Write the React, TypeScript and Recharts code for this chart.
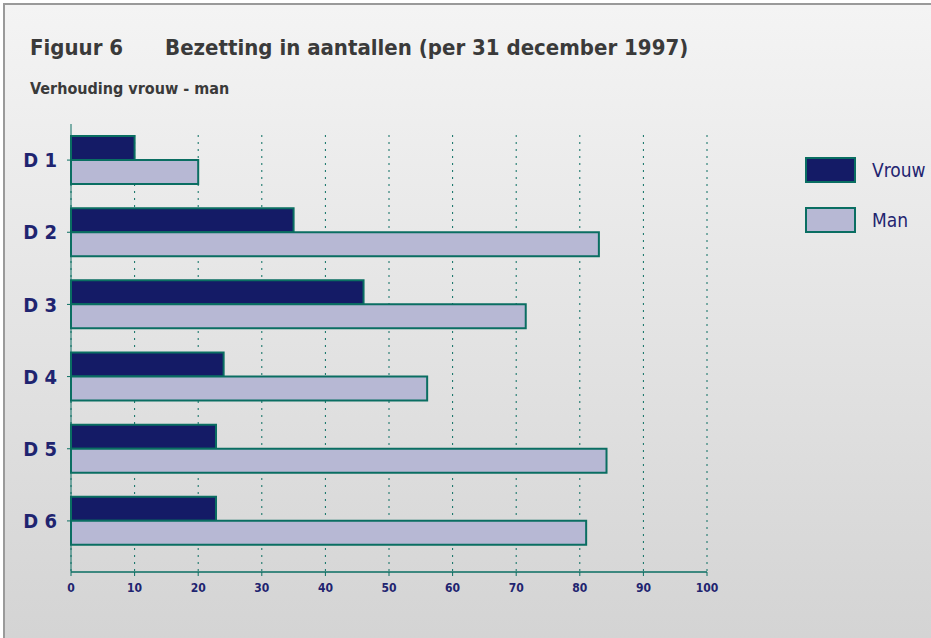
import React from "react";
import {
  BarChart,
  Bar,
  XAxis,
  YAxis,
  CartesianGrid,
} from "recharts";

const categories = ["D 1", "D 2", "D 3", "D 4", "D 5", "D 6"];
const vrouw = [10, 35, 46, 24, 22.8, 22.8];
const man = [20, 83, 71.5, 56, 84.2, 81];
const xTicks = [0, 10, 20, 30, 40, 50, 60, 70, 80, 90, 100];

const data = categories.map((name, i) => ({
  name,
  Vrouw: vrouw[i],
  Man: man[i],
}));

const NAVY = "#141b66";
const LAVENDER = "#b7b8d4";
const TEAL = "#0a6e62";
const LABEL = "#1f2470";
const FONT = "'Liberation Sans Narrow', 'DejaVu Sans Condensed', 'Arial Narrow', sans-serif";

const legendItems = [
  { label: "Vrouw", fill: NAVY },
  { label: "Man", fill: LAVENDER },
];

const LegendBox = () => (
  <div style={{ position: "absolute", left: 805, top: 157, fontFamily: FONT }}>
    {legendItems.map((item, i) => (
      <div
        key={item.label}
        style={{
          display: "flex",
          alignItems: "center",
          height: 26,
          marginBottom: i === 0 ? 24 : 0,
        }}
      >
        <div
          style={{
            width: 47,
            height: 22,
            background: item.fill,
            border: `2px solid ${TEAL}`,
          }}
        />
        <span style={{ marginLeft: 16, fontSize: 19, color: LABEL }}>
          {item.label}
        </span>
      </div>
    ))}
  </div>
);

export default function App() {
  return (
    <div
      style={{
        position: "absolute",
        left: 0,
        top: 0,
        width: 931,
        height: 638,
        overflow: "hidden",
        background: "#ffffff",
      }}
    >
      <div
        style={{
          position: "absolute",
          left: 3,
          top: 3,
          width: 940,
          height: 650,
          borderLeft: "2px solid #9a9a9a",
          borderTop: "2px solid #9a9a9a",
          background: "linear-gradient(#f4f4f4, #d3d3d3)",
        }}
      />
      <div
        style={{
          position: "absolute",
          left: 30,
          top: 35,
          fontFamily: FONT,
          fontWeight: "bold",
          fontSize: 22,
          color: "#3a3a3a",
          whiteSpace: "nowrap",
        }}
      >
        <span>Figuur 6</span>
        <span style={{ marginLeft: 42 }}>
          Bezetting in aantallen (per 31 december 1997)
        </span>
      </div>
      <div
        style={{
          position: "absolute",
          left: 30,
          top: 79,
          fontFamily: FONT,
          fontWeight: "bold",
          fontSize: 16,
          color: "#3a3a3a",
        }}
      >
        Verhouding vrouw - man
      </div>
      <div style={{ position: "absolute", left: 0, top: 0 }}>
        <BarChart
          width={931}
          height={638}
          data={data}
          layout="vertical"
          barSize={24}
          barGap={0}
          margin={{ top: 124, right: 224, left: 0, bottom: 36 }}
        >
          <CartesianGrid
            horizontal={false}
            stroke={TEAL}
            strokeDasharray="2 5"
            y={135}
            height={437}
          />
          <XAxis
            type="number"
            domain={[0, 100]}
            ticks={xTicks}
            interval={0}
            height={30}
            axisLine={{ stroke: TEAL, strokeWidth: 1.5 }}
            tickLine={{ stroke: TEAL }}
            tickSize={4}
            tickMargin={7}
            tick={{ fill: LABEL, fontSize: 12, fontWeight: "bold", fontFamily: FONT }}
          />
          <YAxis
            type="category"
            dataKey="name"
            width={71}
            padding={{ top: 0, bottom: 15 }}
            axisLine={{ stroke: TEAL }}
            tickLine={{ stroke: TEAL }}
            tickSize={4}
            tickMargin={10}
            tick={{ fill: LABEL, fontSize: 20, fontWeight: "bold", fontFamily: FONT }}
          />
          <Bar
            dataKey="Vrouw"
            fill={NAVY}
            stroke={TEAL}
            strokeWidth={2}
            isAnimationActive={false}
          />
          <Bar
            dataKey="Man"
            fill={LAVENDER}
            stroke={TEAL}
            strokeWidth={2}
            isAnimationActive={false}
          />
        </BarChart>
      </div>
      <LegendBox />
    </div>
  );
}
